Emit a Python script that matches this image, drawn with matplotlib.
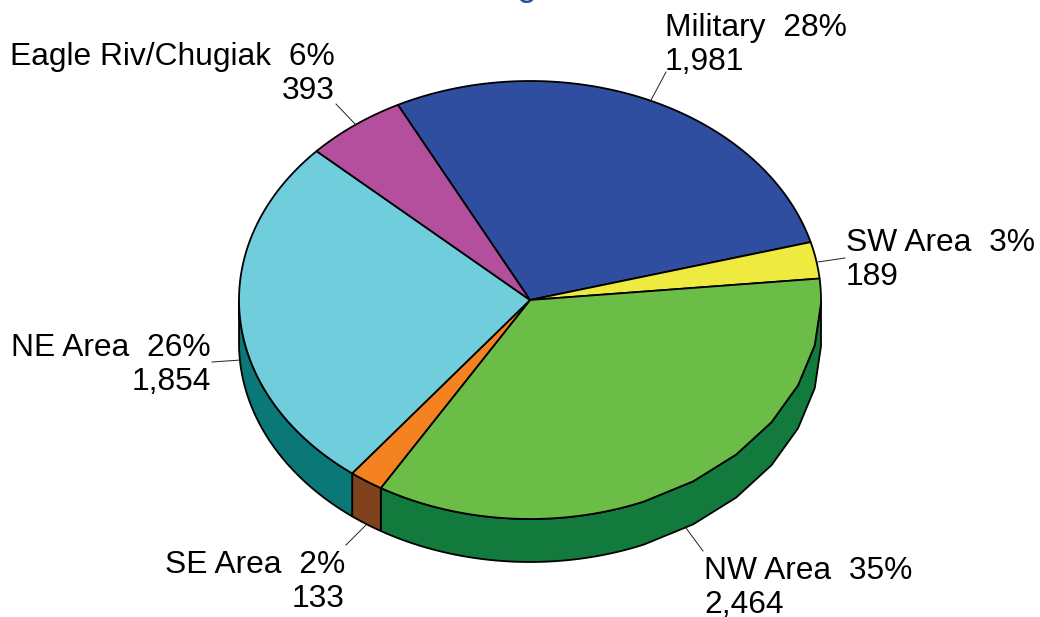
import numpy as np
import matplotlib
matplotlib.use("Agg")
import matplotlib.pyplot as plt

plt.rcParams['font.family'] = ['Liberation Sans', 'DejaVu Sans']

names = ["Military", "SW Area", "NW Area", "SE Area", "NE Area", "Eagle Riv/Chugiak"]
values = [1981, 189, 2464, 133, 1854, 393]
percents = [28, 3, 35, 2, 26, 6]
top_colors = ["#2F4EA0", "#EEEA3F", "#6CBD47", "#F58220", "#70CDDB", "#B44F9E"]
side_colors = ["#1F3570", "#A8A52A", "#117A3C", "#7F421C", "#0A7876", "#7A3570"]

# pixel geometry of the pie in the picture
cx, cy = 530, 300
rx, ry = 291, 219
depth = 43
start = 117
# the rim is only faceted on the lower right, between these two angles
facet_lo, facet_hi = -66.9, 0.1
facet_step = 11


def px(x):
    return (x - cx) / rx


def py(y):
    return (cy - y) / ry


def rim(a_hi, a_lo):
    t = np.arange(a_lo, a_hi, 1.0)
    t = t[(t < facet_lo) | (t > facet_hi)]
    coarse = np.arange(facet_lo, facet_hi + 1, facet_step)
    coarse = coarse[(coarse > a_lo) & (coarse < a_hi)]
    t = np.sort(np.concatenate([t, coarse, [a_hi]]))
    return np.radians(t[::-1])


fig = plt.figure(figsize=(10.4, 6.17), dpi=100)
ax = fig.add_axes([0, 0, 1, 1])

angles = start - np.cumsum([0] + values) / sum(values) * 360
d = depth / ry

# side wall, only the front half shows
for i in range(len(values)):
    hi = min(angles[i], 0)
    lo = max(angles[i + 1], -180)
    if hi <= lo:
        continue
    t = rim(hi, lo)
    xs = np.concatenate([np.cos(t), np.cos(t[::-1])])
    ys = np.concatenate([np.sin(t), np.sin(t[::-1]) - d])
    ax.fill(xs, ys, facecolor=side_colors[i], edgecolor="black", linewidth=1.3, joinstyle="round")

# top face
for i in range(len(values)):
    t = rim(angles[i], angles[i + 1])
    xs = np.concatenate([[0], np.cos(t)])
    ys = np.concatenate([[0], np.sin(t)])
    ax.fill(xs, ys, facecolor=top_colors[i], edgecolor="black", linewidth=1.3, joinstyle="round")

ax.set_xlim(px(0), px(1040))
ax.set_ylim(py(617), py(0))
ax.axis("off")

# leader lines
leaders = [((650, 102), (666, 72)), ((818, 262), (845, 258)), ((686, 528), (703, 551)),
           ((366, 525), (346, 545)), ((241, 360), (212, 362)), ((356, 125), (336, 104))]
for p, q in leaders:
    ax.plot([px(p[0]), px(q[0])], [py(p[1]), py(q[1])], color="#222222", linewidth=0.7)

# text anchors: (x, baseline of first line, alignment)
anchors = [(665, 36, "left"), (846, 251, "left"), (704, 579, "left"),
           (345, 573, "right"), (211, 356, "right"), (335, 65, "right")]
for i, (x, y, ha) in enumerate(anchors):
    ax.text(px(x), py(y), f"{names[i]}  {percents[i]}%", ha=ha, va="baseline", fontsize=22.9, color="black")
    ax.text(px(x), py(y + 34), f"{values[i]:,}", ha=ha, va="baseline", fontsize=22.9, color="black")

# title is cut off by the top edge, only a descender is left
ax.text(px(527), py(-5), "g", ha="center", va="baseline", fontsize=26, color="#2F4EA0")

fig.savefig("out.png", dpi=100)
